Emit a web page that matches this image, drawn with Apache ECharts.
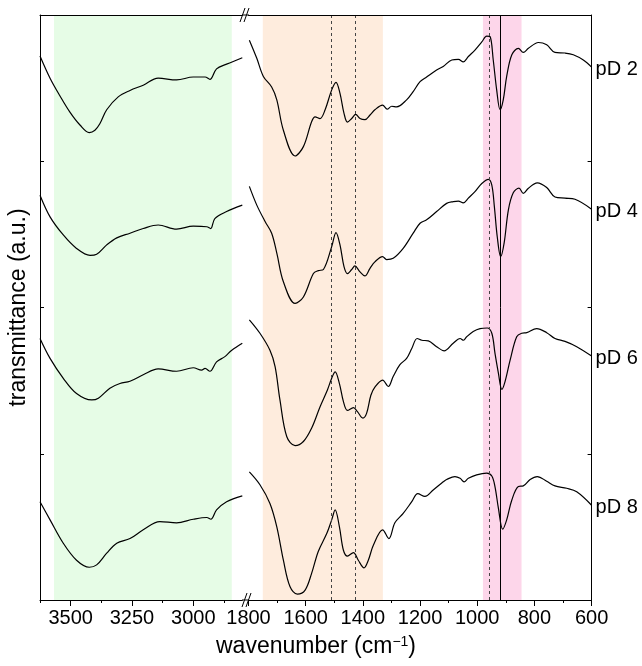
<!DOCTYPE html>
<html>
<head>
<meta charset="utf-8">
<script src="https://cdn.jsdelivr.net/npm/echarts@6/dist/echarts.min.js"></script>
<style>
  html, body { margin: 0; padding: 0; background: #fff; }
  #main { width: 642px; height: 666px; }
</style>
</head>
<body>
<div id="main"></div>
<script>
var names = ['pD 2', 'pD 4', 'pD 6', 'pD 8'];

// 3625-2800 cm-1 region, [wavenumber, offset transmittance]
var hiPD2 = [[3625,93.0],[3584,89.2],[3544,86.2],[3503,83.4],[3462,81.2],[3424,79.9],[3401,80.3],[3381,81.4],[3353,83.8],[3306,86.0],[3258,87.1],[3204,88.0],[3143,89.2],[3068,88.9],[3000,89.4],[2952,89.4],[2932,89.0],[2905,90.8],[2864,91.6],[2800,92.7]];
var hiPD4 = [[3625,69.2],[3584,65.5],[3530,62.4],[3476,60.1],[3421,58.9],[3394,59.1],[3353,60.7],[3312,61.9],[3258,62.7],[3204,63.5],[3143,64.1],[3068,63.4],[3000,63.9],[2945,63.8],[2929,63.5],[2912,65.2],[2864,66.4],[2800,67.5]];
var hiPD6 = [[3625,44.7],[3584,41.3],[3530,37.9],[3476,35.3],[3414,34.2],[3387,34.5],[3340,36.2],[3299,37.0],[3258,37.4],[3204,38.5],[3143,39.5],[3068,39.1],[3000,39.7],[2966,39.3],[2952,39.6],[2932,39.1],[2905,40.7],[2871,41.6],[2843,42.7],[2800,43.9]];
var hiPD8 = [[3625,16.8],[3584,13.7],[3530,9.7],[3476,6.8],[3424,5.6],[3394,6.0],[3353,8.0],[3312,9.7],[3258,10.5],[3204,12.0],[3136,13.4],[3068,13.2],[3000,13.8],[2945,14.1],[2928,13.8],[2905,15.4],[2864,16.8],[2800,17.8]];

// 1800-600 cm-1 region
var fpPD2 = [[1797,95.7],[1771,92.6],[1748,89.5],[1719,87.7],[1701,85.5],[1678,80.3],[1637,75.9],[1608,77.5],[1579,81.8],[1567,82.6],[1550,82.3],[1532,83.8],[1509,87.2],[1494,88.5],[1480,86.6],[1466,83.2],[1454,81.7],[1439,82.3],[1425,83.0],[1410,82.3],[1393,82.1],[1375,82.9],[1358,83.8],[1331,84.6],[1315,83.9],[1299,84.4],[1282,84.3],[1247,85.5],[1224,86.9],[1200,88.6],[1177,89.4],[1142,90.6],[1119,91.2],[1089,92.3],[1066,92.4],[1049,92.0],[1031,92.9],[1008,94.0],[984,95.4],[967,96.4],[955,96.3],[944,92.3],[932,87.2],[920,83.8],[909,85.5],[897,89.5],[879,93.2],[856,94.3],[839,93.6],[821,94.3],[786,95.3],[757,94.9],[728,93.6],[693,93.5],[664,93.2],[629,92.3],[600,91.1]];
var fpPD4 = [[1797,70.7],[1771,67.5],[1742,64.7],[1719,62.7],[1701,59.3],[1678,54.4],[1637,50.7],[1608,51.8],[1573,55.8],[1556,56.3],[1538,56.5],[1509,60.4],[1494,62.8],[1480,60.7],[1466,57.0],[1454,55.8],[1439,56.5],[1428,57.1],[1410,56.1],[1393,55.4],[1375,56.7],[1358,57.8],[1331,58.7],[1317,58.2],[1294,58.4],[1259,60.1],[1224,62.7],[1200,64.4],[1177,65.0],[1142,66.4],[1107,67.8],[1084,68.1],[1066,68.2],[1049,67.9],[1031,68.7],[1008,69.8],[984,71.2],[961,71.9],[949,70.9],[940,67.2],[930,62.1],[918,58.7],[906,61.0],[891,66.7],[874,69.6],[854,70.4],[839,69.5],[821,70.4],[790,71.3],[757,70.5],[728,68.9],[693,68.7],[658,68.5],[600,66.8]];
var fpPD6 = [[1797,47.9],[1760,45.6],[1725,42.7],[1707,39.9],[1690,34.2],[1666,27.9],[1637,26.4],[1608,27.1],[1579,29.4],[1550,33.0],[1524,35.9],[1509,37.9],[1497,39.0],[1482,37.0],[1468,33.9],[1454,32.4],[1433,32.9],[1419,32.2],[1400,31.1],[1387,31.9],[1372,35.0],[1358,36.4],[1331,37.6],[1311,36.5],[1294,38.2],[1271,40.2],[1247,41.3],[1229,43.0],[1210,44.7],[1194,44.4],[1171,44.3],[1142,43.3],[1116,42.6],[1084,43.9],[1060,44.7],[1048,44.4],[1037,45.0],[1014,45.9],[990,46.4],[965,46.5],[949,45.6],[938,42.2],[926,38.8],[914,36.0],[903,37.3],[885,41.0],[862,45.0],[844,45.6],[827,45.7],[792,46.4],[757,45.7],[728,44.7],[693,44.2],[652,43.3],[600,41.7]];
var fpPD8 = [[1797,21.9],[1760,19.7],[1725,16.5],[1701,12.5],[1678,6.8],[1655,2.3],[1629,1.0],[1602,1.7],[1579,4.6],[1556,8.3],[1526,11.4],[1509,13.7],[1497,15.4],[1482,12.5],[1468,8.5],[1454,7.5],[1433,8.1],[1416,6.8],[1396,5.5],[1381,6.8],[1363,9.4],[1331,12.0],[1309,10.5],[1288,13.2],[1259,14.8],[1229,16.8],[1208,18.2],[1183,17.7],[1154,18.8],[1119,20.2],[1107,20.6],[1078,21.1],[1060,20.8],[1046,20.2],[1031,20.8],[1002,21.4],[967,21.7],[949,21.2],[938,19.4],[926,15.7],[911,12.1],[897,13.7],[879,17.1],[856,19.4],[839,19.5],[815,20.6],[790,21.1],[757,20.3],[728,19.5],[687,19.1],[652,18.5],[600,16.2]];

var hiData = [hiPD2, hiPD4, hiPD6, hiPD8];
var fpData = [fpPD2, fpPD4, fpPD6, fpPD8];

// highlighted regions and reference lines (cm-1)
var bandOH = [3568, 2843];
var bandAmide = [1750, 1330];
var bandPO = [980, 845];
var dashedLines = [1510, 1425, 959];
var solidLine = 918;

var hiMajor = [3500, 3250, 3000];
var hiMinor = [3625, 3375, 3125, 2875];

var font = 'Liberation Sans, Arial, sans-serif';
var chart = echarts.init(document.getElementById('main'));

var series = [];
for (var i = 0; i < names.length; i++) {
  series.push({
    name: names[i], type: 'line', xAxisIndex: 0, yAxisIndex: 0,
    data: hiData[i], showSymbol: false, smooth: 0.35, z: 3, silent: true,
    lineStyle: { color: '#000', width: 1.2 }
  });
  series.push({
    name: names[i], type: 'line', xAxisIndex: 3, yAxisIndex: 1,
    data: fpData[i], showSymbol: false, smooth: 0.35, z: 3, silent: true,
    lineStyle: { color: '#000', width: 1.2 },
    endLabel: {
      show: true, formatter: '{a}', distance: 0, align: 'left', offset: [4, 2],
      fontSize: 20, fontFamily: font, color: '#000'
    }
  });
}

// background bands + marker lines
series.push({
  type: 'line', xAxisIndex: 0, yAxisIndex: 0, z: 1, silent: true,
  data: [[3625, 0], [2800, 0]], showSymbol: false, lineStyle: { opacity: 0 },
  markArea: {
    silent: true,
    itemStyle: { color: '#e6fce6' },
    data: [[{ xAxis: bandOH[0] }, { xAxis: bandOH[1] }]]
  }
});
series.push({
  type: 'line', xAxisIndex: 3, yAxisIndex: 1, z: 1, silent: true,
  data: [[1800, 0], [600, 0]], showSymbol: false, lineStyle: { opacity: 0 },
  markArea: {
    silent: true,
    data: [
      [{ xAxis: bandAmide[0], itemStyle: { color: '#feecdd' } }, { xAxis: bandAmide[1] }],
      [{ xAxis: bandPO[0], itemStyle: { color: '#fdd6ea' } }, { xAxis: bandPO[1] }]
    ]
  },
  markLine: {
    silent: true, symbol: ['none', 'none'], label: { show: false },
    data: dashedLines.map(function (v) {
      return { xAxis: v, lineStyle: { color: '#444', width: 1, type: [3, 3] } };
    }).concat([{ xAxis: solidLine, lineStyle: { color: '#000', width: 1, type: 'solid' } }])
  }
});

var plainNum = function (v) { return String(v); };
var axisLabelStyle = { fontSize: 20, fontFamily: font, color: '#000', formatter: plainNum };

var option = {
  animation: false,
  backgroundColor: '#fff',
  title: {
    text: 'wavenumber (cm{sup|−1})',
    left: 311, top: 630, textAlign: 'center',
    textStyle: {
      fontSize: 23, fontWeight: 'normal', fontFamily: font, color: '#000',
      rich: { sup: { fontSize: 14, fontFamily: font, color: '#000', verticalAlign: 'top', padding: [0, 0, 10, 0] } }
    }
  },
  grid: [
    { left: 40, top: 15, width: 202.3, height: 585 },
    { left: 248.5, top: 15, width: 343.1, height: 585 }
  ],
  xAxis: [
    {
      gridIndex: 0, type: 'value', position: 'bottom', inverse: true, min: 2800, max: 3625, z: 10,
      axisLine: { lineStyle: { color: '#000', width: 1 } },
      axisTick: { length: 6, customValues: hiMajor, lineStyle: { color: '#000' } },
      axisLabel: Object.assign({ margin: 8, customValues: hiMajor }, axisLabelStyle),
      splitLine: { show: false }
    },
    {
      gridIndex: 0, type: 'value', position: 'bottom', inverse: true, min: 2800, max: 3625, z: 10,
      axisLine: { show: false },
      axisTick: { length: 3, customValues: hiMinor, lineStyle: { color: '#000' } },
      axisLabel: { show: false }, splitLine: { show: false }
    },
    {
      gridIndex: 0, type: 'value', position: 'top', inverse: true, min: 2800, max: 3625, z: 10,
      axisLine: { lineStyle: { color: '#000', width: 1 } },
      axisTick: { show: false }, axisLabel: { show: false }, splitLine: { show: false }
    },
    {
      gridIndex: 1, type: 'value', position: 'bottom', inverse: true, min: 600, max: 1800, interval: 200, z: 10,
      axisLine: { lineStyle: { color: '#000', width: 1 } },
      axisTick: { length: 6, lineStyle: { color: '#000' } },
      minorTick: { show: true, splitNumber: 2, length: 3, lineStyle: { color: '#000' } },
      axisLabel: Object.assign({ margin: 8 }, axisLabelStyle),
      splitLine: { show: false }
    },
    {
      gridIndex: 1, type: 'value', position: 'top', inverse: true, min: 600, max: 1800, z: 10,
      axisLine: { lineStyle: { color: '#000', width: 1 } },
      axisTick: { show: false }, axisLabel: { show: false }, splitLine: { show: false }
    }
  ],
  yAxis: [
    {
      gridIndex: 0, type: 'value', position: 'left', min: 0, max: 100, interval: 25, z: 10,
      name: 'transmittance (a.u.)', nameLocation: 'middle', nameGap: 10,
      nameTextStyle: { fontSize: 23, fontFamily: font, color: '#000' },
      axisLine: { show: true, lineStyle: { color: '#000', width: 1 } },
      axisTick: { show: true, inside: true, length: 4, lineStyle: { color: '#000' } },
      axisLabel: { show: false }, splitLine: { show: false }
    },
    {
      gridIndex: 1, type: 'value', position: 'right', min: 0, max: 100, interval: 25, z: 10,
      axisLine: { show: true, lineStyle: { color: '#000', width: 1 } },
      axisTick: { show: true, inside: true, length: 4, lineStyle: { color: '#000' } },
      axisLabel: { show: false }, splitLine: { show: false }
    }
  ],
  graphic: [
    // axis break marks
    { type: 'line', shape: { x1: 242, y1: 15, x2: 249, y2: 15 }, style: { stroke: '#000', lineWidth: 1 } },
    { type: 'line', shape: { x1: 242, y1: 600, x2: 249, y2: 600 }, style: { stroke: '#000', lineWidth: 1 } },
    { type: 'line', shape: { x1: 240, y1: 22, x2: 245, y2: 8 }, style: { stroke: '#000', lineWidth: 1 } },
    { type: 'line', shape: { x1: 244, y1: 22, x2: 249, y2: 8 }, style: { stroke: '#000', lineWidth: 1 } },
    { type: 'line', shape: { x1: 242, y1: 607, x2: 247, y2: 593 }, style: { stroke: '#000', lineWidth: 1 } },
    { type: 'line', shape: { x1: 246, y1: 607, x2: 251, y2: 593 }, style: { stroke: '#000', lineWidth: 1 } }
  ],
  series: series
};
chart.setOption(option);
</script>
</body>
</html>
